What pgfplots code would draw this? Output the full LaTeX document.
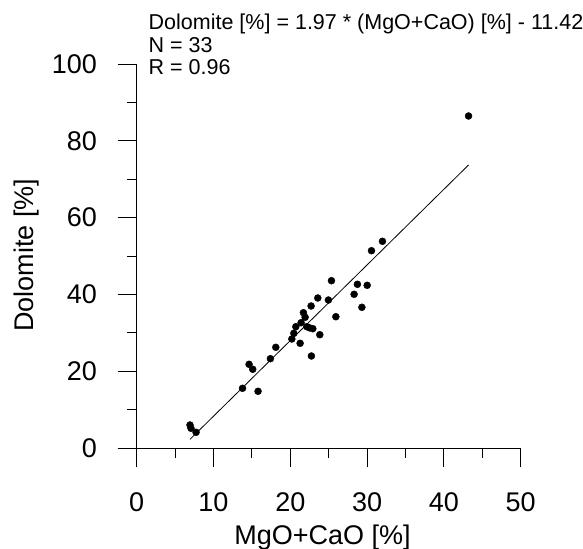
\documentclass[border=0pt]{standalone}
\usepackage{fontspec}
\setmainfont{Liberation Sans}
\usepackage{pgfplots}
\pgfplotsset{compat=1.18}
\begin{document}
\begin{tikzpicture}
\path[use as bounding box] (0,0) rectangle (583bp,549bp);
\begin{axis}[
  at={(136.7bp,101bp)}, anchor=south west,
  scale only axis, width=384bp, height=384bp,
  xmin=0, xmax=50, ymin=0, ymax=100,
  axis lines*=left,
  clip=false,
  axis line style={line width=0.9bp, black},
  x axis line style={shorten <=-19bp},
  y axis line style={shorten <=-19bp},
  xtick={0,10,...,50}, ytick={0,20,...,100},
  minor x tick num=1, minor y tick num=1,
  tick align=outside,
  major tick length=19bp, minor tick length=9.5bp,
  every tick/.style={line width=0.9bp, black},
  /pgf/number format/assume math mode=true,
  tick label style={font=\fontsize{27bp}{32bp}\selectfont, inner sep=0pt},
  xticklabel style={anchor=base, yshift=-44.7bp},
  yticklabel style={anchor=east, xshift=-20.5bp},
  xlabel={MgO+CaO [\%]},
  ylabel={Dolomite [\%]},
  label style={font=\fontsize{27bp}{32bp}\selectfont, inner sep=0pt},
  xlabel style={at={(axis description cs:0.484,0)}, anchor=base, yshift=-96bp},
  ylabel style={at={(axis description cs:-0.27,0.5026)}, anchor=base},
]
\addplot[only marks, mark=*, mark size=3.5bp, black] coordinates {
(6.94,5.99) (7.07,5.13) (7.73,4.09) (13.78,15.55) (15.80,14.77)
(14.63,21.8) (15.11,20.5) (17.41,23.26) (18.11,26.22) (20.20,28.39)
(20.46,29.87) (20.72,31.59) (21.28,27.27) (22.75,23.96) (21.41,32.63)
(21.71,35.23) (21.93,34.04) (22.15,31.59) (22.5,31.3) (22.93,31.07)
(23.84,29.5) (22.71,36.98) (23.58,39.06) (24.96,38.54) (25.93,34.19)
(25.36,43.57) (28.74,42.63) (30.01,42.37) (28.31,40.03) (29.32,36.64)
(30.57,51.38) (32.0,53.83) (43.21,86.46)
};
\addplot[black, line width=0.8bp] coordinates {(6.94,2.25) (43.21,73.70)};
\end{axis}
\node[anchor=base west, inner sep=0pt, font=\fontsize{21.5bp}{25bp}\selectfont] at (148.5bp,519bp) {Dolomite [\%] = 1.97 * (MgO+CaO) [\%] - 11.42};
\node[anchor=base west, inner sep=0pt, font=\fontsize{21.5bp}{25bp}\selectfont] at (148.5bp,496.3bp) {N = 33};
\node[anchor=base west, inner sep=0pt, font=\fontsize{21.5bp}{25bp}\selectfont] at (148.5bp,474bp) {R = 0.96};
\end{tikzpicture}
\end{document}
